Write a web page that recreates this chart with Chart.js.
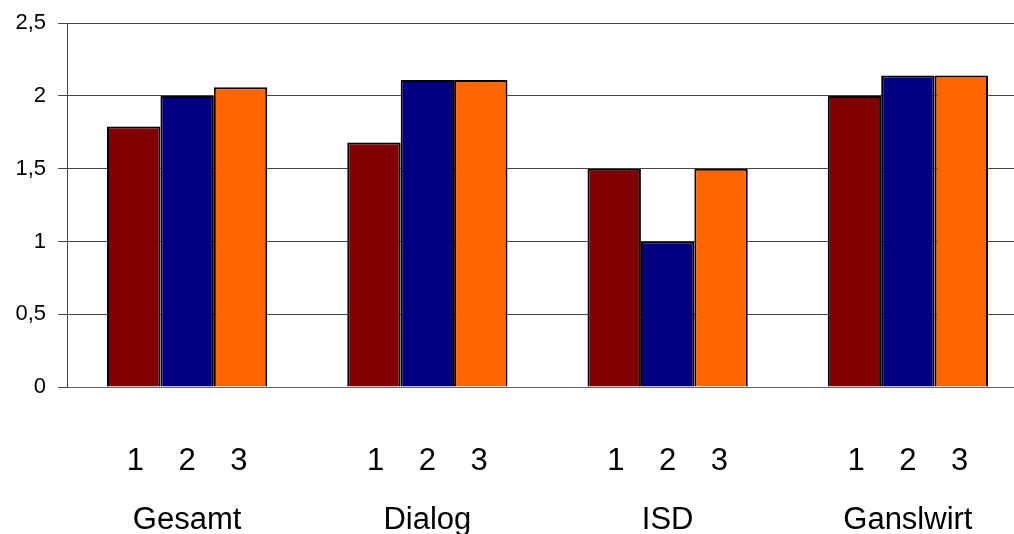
<!DOCTYPE html>
<html>
<head>
<meta charset="utf-8">
<script src="https://cdn.jsdelivr.net/npm/chart.js@4/dist/chart.umd.min.js"></script>
<style>
  html, body { margin: 0; padding: 0; background: #fff; overflow: hidden; }
  #wrap { width: 1014px; height: 534px; overflow: hidden; }
  canvas { display: block; margin-top: -2px; }
</style>
</head>
<body>
<div id="wrap">
  <canvas id="myChart" width="1030" height="589" style="width:1030px;height:589px"></canvas>
</div>
<script>
const categories = ['Gesamt', 'Dialog', 'ISD', 'Ganslwirt']
const seriesNames = ['1', '2', '3']
const series1 = [1.79, 1.68, 1.5, 2.0]
const series2 = [2.0, 2.11, 1.0, 2.14]
const series3 = [2.06, 2.11, 1.5, 2.14]
const yTicks = [0, 0.5, 1, 1.5, 2, 2.5]

const colors = ['#800000', '#000080', '#ff6600']
const seriesData = [series1, series2, series3]

const ctx = document.getElementById('myChart')
const myChart = new Chart(ctx, {
    type: 'bar',
    data: {
        labels: categories.map((c) => [seriesNames.join('    '), c]),
        datasets: seriesData.map((d, i) => ({
            label: seriesNames[i],
            data: d,
            backgroundColor: colors[i],
            borderColor: '#000',
            borderWidth: 2,
            categoryPercentage: 0.667,
            barPercentage: 1
        }))
    },
    options: {
        responsive: false,
        animation: false,
        layout: {
            padding: { top: 8, right: 2, bottom: 0, left: 0 }
        },
        plugins: {
            legend: { display: false },
            tooltip: { enabled: false }
        },
        scales: {
            x: {
                grid: { display: false },
                border: { display: true, color: '#666', width: 1 },
                ticks: {
                    color: '#000',
                    padding: 37,
                    maxRotation: 0,
                    autoSkip: false,
                    font: { family: 'Liberation Sans, Arial, sans-serif', size: 31, lineHeight: '59px' }
                }
            },
            y: {
                min: 0,
                max: 2.5,
                afterBuildTicks: (scale) => {
                    scale.ticks = yTicks.map((v) => ({ value: v }))
                },
                afterFit: (scale) => {
                    scale.width = 67
                },
                grid: { color: '#444', lineWidth: 1, tickLength: 9 },
                border: { display: true, color: '#444', width: 1 },
                ticks: {
                    color: '#000',
                    padding: 12,
                    font: { family: 'Liberation Sans, Arial, sans-serif', size: 22 },
                    callback: (v) => String(v).replace('.', ',')
                }
            }
        }
    }
})
</script>
</body>
</html>
